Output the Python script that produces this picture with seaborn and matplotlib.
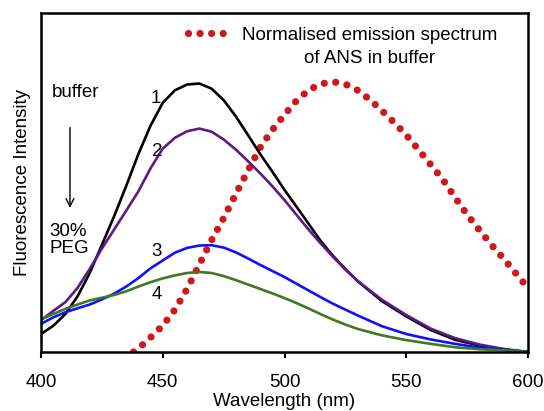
import numpy as np
import pandas as pd
import matplotlib
matplotlib.use("Agg")
import matplotlib.pyplot as plt
import seaborn as sns

# Espectros de fluorescencia (1: buffer -> 4: 30% PEG), intensidad normalizada a mano
wavelength = [400, 405, 410, 415, 420, 425, 430, 435, 440, 445, 450, 455, 460, 465,
              470, 475, 480, 485, 490, 495, 500, 505, 510, 515, 520, 525, 530,
              540, 550, 560, 570, 580, 590, 600]
curve1 = [0.053, 0.077, 0.112, 0.164, 0.233, 0.316, 0.400, 0.490, 0.584, 0.668, 0.735, 0.772,
          0.789, 0.792, 0.777, 0.743, 0.695, 0.640, 0.584, 0.532, 0.478, 0.428, 0.377, 0.326,
          0.283, 0.245, 0.209, 0.150, 0.105, 0.065, 0.036, 0.019, 0.007, 0.0]
curve2 = [0.094, 0.121, 0.147, 0.189, 0.245, 0.305, 0.361, 0.417, 0.474, 0.542, 0.600, 0.632,
          0.651, 0.659, 0.650, 0.627, 0.597, 0.563, 0.527, 0.489, 0.448, 0.404, 0.360, 0.319,
          0.280, 0.243, 0.210, 0.154, 0.109, 0.069, 0.041, 0.022, 0.009, 0.0]
curve3 = [0.083, 0.102, 0.117, 0.129, 0.140, 0.155, 0.172, 0.193, 0.218, 0.247, 0.270, 0.293,
          0.307, 0.314, 0.315, 0.308, 0.294, 0.276, 0.257, 0.239, 0.221, 0.201, 0.181, 0.161,
          0.142, 0.125, 0.108, 0.076, 0.053, 0.037, 0.024, 0.013, 0.007, 0.0]
curve4 = [0.096, 0.112, 0.127, 0.140, 0.152, 0.160, 0.168, 0.179, 0.193, 0.206, 0.217, 0.226,
          0.233, 0.236, 0.233, 0.224, 0.212, 0.199, 0.186, 0.173, 0.159, 0.144, 0.128, 0.111,
          0.095, 0.081, 0.068, 0.049, 0.035, 0.024, 0.014, 0.008, 0.005, 0.0]

# Espectro de emisión normalizado de ANS en buffer
ans_wavelength = [438, 440, 445, 450, 455, 460, 465, 470, 475, 480, 485, 490, 495, 500,
                  505, 510, 515, 520, 525, 530, 535, 540, 545, 550, 555, 560, 565, 570,
                  575, 580, 585, 590, 595, 598]
ans_buffer = [0.0, 0.010, 0.043, 0.078, 0.125, 0.186, 0.258, 0.329, 0.395, 0.466, 0.535,
              0.603, 0.655, 0.700, 0.742, 0.773, 0.791, 0.797, 0.790, 0.772, 0.745, 0.712,
              0.677, 0.640, 0.597, 0.553, 0.509, 0.456, 0.405, 0.360, 0.316, 0.275, 0.232, 0.206]

curve_labels = ["1", "2", "3", "4"]
curve_colors = ["#000000", "#5c1a86", "#1010ff", "#3f7a1c"]
label_pos = [(447, 0.747), (447.6, 0.590), (447.6, 0.295), (447.6, 0.171)]

df = pd.DataFrame({"wavelength": wavelength * 4,
                   "intensity": curve1 + curve2 + curve3 + curve4,
                   "curve": np.repeat(curve_labels, len(wavelength))})
df_ans = pd.DataFrame({"wavelength": ans_wavelength, "intensity": ans_buffer})

sns.set_style("white")
plt.rcParams["font.family"] = ["Liberation Sans", "DejaVu Sans"]
plt.rcParams["text.color"] = "black"
plt.rcParams["axes.labelcolor"] = "black"
plt.rcParams["xtick.color"] = "black"
fs = 13.5

fig = plt.figure(figsize=(5.44, 4.11), dpi=100)
ax = fig.add_axes([0.0754, 0.1436, 0.8952, 0.8248])

sns.lineplot(data=df_ans, x="wavelength", y="intensity", ax=ax, color="#d01818",
             linewidth=5.2, linestyle=(0, (0.001, 1.6)), dash_capstyle="round", legend=False)
sns.lineplot(data=df, x="wavelength", y="intensity", hue="curve", hue_order=curve_labels,
             palette=dict(zip(curve_labels, curve_colors)), ax=ax, linewidth=1.9, legend=False)

for lab, (x, y) in zip(curve_labels, label_pos):
    ax.text(x, y, lab, fontsize=fs, ha="center", va="center")

ax.text(404.3, 0.764, "buffer", fontsize=fs, ha="left", va="center")
ax.text(403.3, 0.330, "30%\nPEG", fontsize=fs, ha="left", va="center", linespacing=1.05)
ax.annotate("", xy=(411.9, 0.425), xytext=(411.9, 0.662),
            arrowprops=dict(arrowstyle="->", lw=1.0, color="black",
                            mutation_scale=14, shrinkA=0, shrinkB=0))

leg = ax.legend([ax.lines[0]], ["Normalised emission spectrum"], loc="center left",
                bbox_to_anchor=(0.302, 0.935), frameon=False, fontsize=fs,
                handlelength=2.05, handletextpad=0.8, borderpad=0, borderaxespad=0)
ax.annotate("of ANS in buffer", xy=(0.5, -0.4), xycoords=leg.get_texts()[0],
            ha="center", va="top", fontsize=fs)

ax.set_xlim(400, 600)
ax.set_ylim(0, 1)
ax.set_xticks([400, 450, 500, 550, 600])
ax.set_yticks([])
ax.tick_params(axis="x", direction="out", length=4.5, width=1.5, labelsize=fs, pad=11,
               bottom=True, colors="black")
for sp in ax.spines.values():
    sp.set_linewidth(1.8)
    sp.set_color("black")
ax.set_xlabel("Wavelength (nm)", fontsize=fs, labelpad=1.5)
ax.set_ylabel("Fluorescence Intensity", fontsize=fs, labelpad=7)

fig.canvas.draw()
fig.savefig("out.png", dpi=100)
